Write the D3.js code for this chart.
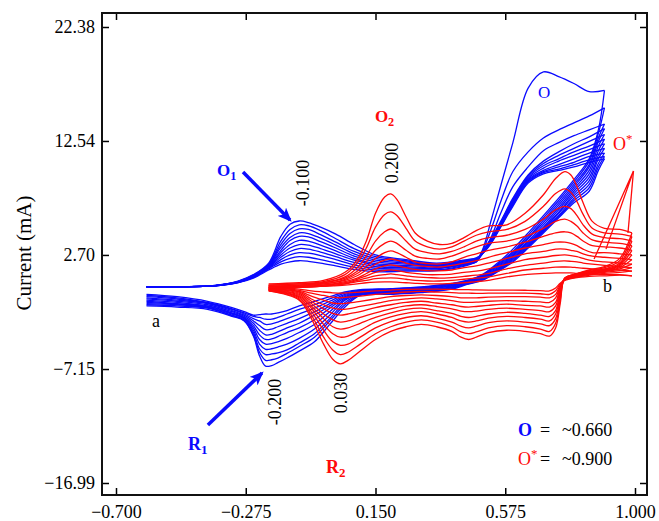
<!DOCTYPE html>
<html><head><meta charset="utf-8">
<script src="https://cdn.jsdelivr.net/npm/d3@7"></script>
<style>
html,body{margin:0;padding:0;background:#fff;}
svg{display:block;font-family:"Liberation Serif","Times New Roman",serif;}
</style></head><body>
<svg id="chart" width="659" height="521"></svg>
<script>
// ---------- DATA ----------
const xTicks = [-0.700, -0.275, 0.150, 0.575, 1.000];
const yTicks = [-16.99, -7.15, 2.70, 12.54, 22.38];

// Blue cycles (potential window -0.60 .. 0.90 V)
const blueForwardX = [-0.60,-0.50,-0.40,-0.35,-0.30,-0.25,-0.20,-0.16,-0.13,-0.10,-0.07,-0.03,0.02,0.08,0.15,0.25,0.35,0.45,0.48,0.50,0.53,0.56,0.60,0.65,0.70,0.75,0.80,0.85,0.90];
const blueForwardY = [
 [-0.05,-0.05,0.0,0.10,0.30,0.70,1.40,1.90,2.10,2.20,2.15,2.00,1.75,1.45,1.25,1.30,1.35,1.80,2.20,3.10,5.80,8.65,12.4,17.1,18.5,18.1,17.5,16.8,16.9],
 [-0.05,-0.05,0.0,0.10,0.32,0.75,1.50,2.10,2.40,2.55,2.50,2.30,2.00,1.65,1.40,1.40,1.40,1.85,2.10,3.00,5.00,7.30,9.90,11.6,12.8,13.5,14.1,14.7,15.4],
 [-0.05,-0.05,0.0,0.10,0.33,0.78,1.55,2.30,2.70,2.90,2.85,2.65,2.30,1.85,1.55,1.50,1.50,1.90,2.10,2.80,4.30,6.30,8.60,10.3,11.7,12.4,13.0,13.5,14.0],
 [-0.05,-0.05,0.0,0.12,0.35,0.80,1.60,2.50,3.00,3.25,3.20,2.95,2.55,2.05,1.70,1.60,1.55,1.95,2.20,3.00,4.20,5.60,7.60,9.60,10.8,11.6,12.3,12.9,13.6],
 [-0.05,-0.05,0.0,0.12,0.36,0.82,1.65,2.70,3.30,3.60,3.55,3.25,2.80,2.25,1.85,1.70,1.60,2.00,2.20,2.90,4.10,5.50,7.50,9.50,10.6,11.3,11.9,12.5,13.1],
 [-0.05,-0.05,0.0,0.13,0.37,0.85,1.70,2.90,3.60,3.95,3.90,3.55,3.05,2.40,1.95,1.80,1.70,2.05,2.25,2.85,4.00,5.40,7.40,9.40,10.4,11.0,11.6,12.1,12.7],
 [-0.05,-0.05,0.0,0.13,0.38,0.88,1.75,3.10,3.95,4.30,4.25,3.85,3.30,2.60,2.10,1.90,1.75,2.10,2.30,2.85,3.95,5.30,7.30,9.30,10.2,10.8,11.3,11.8,12.3],
 [-0.05,-0.05,0.0,0.14,0.39,0.90,1.80,3.35,4.20,4.60,4.55,4.15,3.55,2.80,2.25,2.00,1.80,2.15,2.30,2.80,3.90,5.25,7.20,9.20,10.0,10.5,11.0,11.5,11.9],
 [-0.05,-0.05,0.0,0.14,0.40,0.93,1.85,3.60,4.55,4.95,4.90,4.45,3.80,3.00,2.40,2.10,1.85,2.20,2.35,2.80,3.85,5.20,7.10,9.10,9.90,10.3,10.7,11.2,11.5],
 [-0.05,-0.05,0.0,0.15,0.42,0.96,1.90,3.90,4.90,5.30,5.22,4.80,4.10,3.25,2.55,2.20,1.90,2.25,2.40,2.80,3.80,5.15,7.00,9.00,9.80,10.1,10.5,10.9,11.2],
 [-0.05,-0.05,0.0,0.15,0.44,1.00,2.00,4.30,5.35,5.63,5.50,5.10,4.50,3.60,2.70,2.30,2.00,2.30,2.45,2.80,3.75,5.10,6.90,8.90,9.70,10.0,10.3,10.7,11.0]
];
const blueReverseX = [0.90,0.88,0.85,0.80,0.75,0.70,0.65,0.60,0.55,0.50,0.45,0.40,0.30,0.20,0.10,0.05,0.00,-0.05,-0.10,-0.14,-0.17,-0.19,-0.21,-0.23,-0.25,-0.28,-0.32,-0.40,-0.50,-0.60];
const blueReverseY = [
 [16.9,13.5,11.0,9.2,7.6,6.1,4.6,3.2,2.0,1.00,0.50,0.25,-0.05,-0.20,-0.30,-0.5,-0.9,-1.3,-1.7,-2.1,-2.3,-2.4,-2.4,-2.45,-2.5,-2.2,-1.85,-1.3,-0.9,-0.7],
 [15.4,13.2,10.8,9.0,7.4,5.9,4.4,3.0,1.9,0.95,0.50,0.20,-0.10,-0.25,-0.35,-0.6,-1.1,-1.6,-2.0,-2.4,-2.7,-2.85,-2.85,-2.7,-2.6,-2.3,-1.95,-1.4,-1.0,-0.8],
 [14.0,12.8,10.5,8.8,7.2,5.7,4.2,2.9,1.8,0.90,0.45,0.15,-0.15,-0.30,-0.40,-0.7,-1.3,-1.9,-2.4,-2.8,-3.1,-3.25,-3.3,-3.0,-2.8,-2.4,-2.0,-1.45,-1.1,-0.9],
 [13.6,12.5,10.3,8.6,7.0,5.5,4.1,2.8,1.7,0.85,0.40,0.10,-0.20,-0.35,-0.45,-0.8,-1.5,-2.2,-2.8,-3.2,-3.5,-3.7,-3.75,-3.4,-3.0,-2.5,-2.1,-1.5,-1.2,-1.0],
 [13.1,12.1,10.0,8.4,6.8,5.3,3.9,2.7,1.6,0.80,0.35,0.05,-0.25,-0.40,-0.50,-0.9,-1.7,-2.5,-3.2,-3.6,-3.95,-4.15,-4.2,-3.8,-3.2,-2.6,-2.2,-1.6,-1.3,-1.1],
 [12.7,11.7,9.7,8.2,6.6,5.1,3.8,2.6,1.5,0.75,0.30,0.00,-0.30,-0.45,-0.55,-1.0,-1.9,-2.9,-3.6,-4.0,-4.35,-4.55,-4.6,-4.2,-3.4,-2.7,-2.3,-1.7,-1.4,-1.2],
 [12.3,11.3,9.4,8.0,6.4,5.0,3.7,2.5,1.45,0.70,0.30,-0.05,-0.35,-0.50,-0.60,-1.1,-2.2,-3.3,-4.0,-4.5,-4.8,-4.95,-5.0,-4.6,-3.6,-2.75,-2.35,-1.75,-1.5,-1.3],
 [11.9,11.0,9.1,7.8,6.3,4.9,3.6,2.4,1.4,0.65,0.25,-0.10,-0.40,-0.55,-0.65,-1.2,-2.5,-3.7,-4.5,-5.0,-5.25,-5.4,-5.45,-5.0,-3.8,-2.8,-2.4,-1.8,-1.55,-1.4],
 [11.5,10.6,8.8,7.6,6.1,4.8,3.5,2.3,1.35,0.60,0.20,-0.15,-0.45,-0.60,-0.70,-1.4,-2.8,-4.1,-4.9,-5.5,-5.75,-5.85,-5.9,-5.4,-4.0,-2.9,-2.5,-1.85,-1.6,-1.5],
 [11.2,10.3,8.5,7.4,6.0,4.7,3.4,2.2,1.3,0.55,0.20,-0.20,-0.50,-0.65,-0.75,-1.6,-3.0,-4.4,-5.2,-5.8,-6.2,-6.35,-6.4,-5.7,-4.2,-2.95,-2.55,-1.9,-1.7,-1.6],
 [11.0,10.0,8.2,7.2,5.9,4.6,3.3,2.1,1.25,0.50,0.15,-0.25,-0.55,-0.70,-0.80,-1.8,-3.3,-4.8,-5.6,-6.2,-6.6,-6.85,-6.9,-6.0,-4.3,-3.0,-2.6,-2.0,-1.8,-1.7]
];

// Red cycles (potential window -0.20 .. 0.99 V)
const redForwardX = [-0.20,-0.10,-0.02,0.05,0.09,0.12,0.15,0.18,0.20,0.22,0.25,0.28,0.32,0.36,0.40,0.44,0.48,0.52,0.58,0.64,0.70,0.74,0.77,0.79,0.81,0.83,0.86,0.90,0.95,0.99];
const redForwardY = [
 [0.2,0.3,0.5,1.2,2.3,3.9,6.3,7.7,7.97,7.5,6.0,4.6,3.9,3.6,3.7,4.2,4.8,5.2,5.3,6.3,7.9,9.3,9.9,9.6,8.6,7.2,5.6,5.0,4.9,4.6],
 [0.1,0.2,0.4,1.0,2.0,3.3,5.1,6.2,6.41,6.1,5.0,3.9,3.4,3.2,3.4,3.9,4.4,4.7,4.9,5.6,6.9,8.0,8.4,8.1,7.3,6.2,5.0,4.6,4.5,4.3],
 [0.1,0.2,0.3,0.8,1.6,2.6,3.9,4.7,4.94,4.7,3.9,3.2,2.9,2.8,3.0,3.4,3.9,4.2,4.4,4.9,5.8,6.6,6.9,6.7,6.1,5.3,4.5,4.2,4.1,3.9],
 [0.0,0.1,0.3,0.7,1.3,2.1,3.1,3.7,3.9,3.7,3.1,2.6,2.4,2.35,2.6,3.0,3.4,3.7,3.9,4.3,5.0,5.6,5.8,5.6,5.2,4.6,4.0,3.8,3.7,3.5],
 [0.0,0.1,0.2,0.6,1.1,1.7,2.4,2.9,3.05,2.9,2.5,2.1,1.95,1.92,2.1,2.5,2.8,3.1,3.4,3.8,4.3,4.6,4.7,4.6,4.3,3.9,3.5,3.4,3.3,3.1],
 [0.0,0.0,0.2,0.5,0.9,1.4,1.9,2.25,2.35,2.25,2.0,1.8,1.7,1.66,1.8,2.0,2.2,2.5,2.9,3.3,3.6,3.8,3.8,3.7,3.5,3.2,2.9,2.9,2.8,2.7],
 [-0.1,0.0,0.1,0.4,0.7,1.1,1.5,1.75,1.84,1.75,1.6,1.45,1.35,1.32,1.4,1.6,1.75,2.0,2.4,2.8,3.0,3.2,3.2,3.1,3.0,2.8,2.6,2.5,2.4,2.3],
 [-0.1,0.0,0.1,0.3,0.6,0.9,1.2,1.35,1.41,1.35,1.2,1.1,1.0,1.0,1.05,1.2,1.3,1.5,1.9,2.3,2.5,2.65,2.7,2.65,2.55,2.4,2.2,2.1,2.0,1.9],
 [-0.1,-0.1,0.0,0.2,0.5,0.7,0.9,1.0,1.06,1.0,0.9,0.8,0.75,0.7,0.75,0.85,0.95,1.1,1.5,1.8,2.0,2.15,2.18,2.15,2.1,2.0,1.9,1.8,1.7,1.6],
 [-0.2,-0.1,0.0,0.2,0.4,0.5,0.65,0.7,0.72,0.7,0.6,0.5,0.45,0.45,0.5,0.6,0.7,0.8,1.1,1.4,1.55,1.65,1.66,1.65,1.6,1.55,1.5,1.45,1.4,1.3],
 [-0.2,-0.1,0.0,0.1,0.2,0.3,0.35,0.37,0.37,0.35,0.3,0.25,0.2,0.2,0.25,0.3,0.4,0.5,0.8,1.0,1.1,1.15,1.15,1.15,1.1,1.1,1.05,1.0,1.0,0.9]
];
const redReverseX = [0.99,0.95,0.90,0.85,0.80,0.77,0.755,0.74,0.72,0.69,0.64,0.58,0.52,0.48,0.455,0.43,0.40,0.35,0.30,0.25,0.20,0.15,0.10,0.06,0.035,0.01,-0.02,-0.06,-0.10,-0.20];
const redReverseY = [
 [4.6,2.4,1.7,1.4,1.0,0.7,-1.5,-3.6,-4.3,-4.1,-3.9,-3.8,-4.0,-4.4,-4.6,-4.4,-3.9,-3.5,-3.3,-3.5,-3.9,-4.6,-5.6,-6.4,-6.7,-6.3,-5.0,-2.8,-1.2,-0.4],
 [4.3,2.2,1.6,1.35,1.0,0.7,-1.2,-3.2,-3.9,-3.7,-3.5,-3.4,-3.6,-3.95,-4.1,-3.95,-3.5,-3.1,-2.9,-3.1,-3.5,-4.1,-5.0,-5.7,-5.9,-5.5,-4.4,-2.5,-1.1,-0.4],
 [3.9,2.0,1.5,1.3,1.0,0.7,-0.9,-2.8,-3.4,-3.25,-3.1,-3.0,-3.15,-3.45,-3.6,-3.45,-3.1,-2.75,-2.55,-2.7,-3.05,-3.6,-4.4,-5.0,-5.1,-4.8,-3.8,-2.2,-1.0,-0.35],
 [3.5,1.9,1.45,1.25,0.95,0.7,-0.7,-2.4,-3.0,-2.85,-2.7,-2.6,-2.75,-3.0,-3.1,-3.0,-2.7,-2.4,-2.2,-2.35,-2.65,-3.1,-3.8,-4.3,-4.4,-4.1,-3.3,-1.9,-0.9,-0.35],
 [3.1,1.8,1.4,1.2,0.9,0.65,-0.5,-2.1,-2.6,-2.5,-2.35,-2.25,-2.4,-2.6,-2.7,-2.6,-2.35,-2.1,-1.9,-2.0,-2.3,-2.7,-3.2,-3.6,-3.7,-3.5,-2.8,-1.7,-0.8,-0.3],
 [2.7,1.7,1.35,1.15,0.9,0.65,-0.3,-1.7,-2.2,-2.1,-2.0,-1.9,-2.0,-2.15,-2.2,-2.15,-1.95,-1.75,-1.6,-1.7,-1.95,-2.3,-2.7,-3.0,-3.1,-2.9,-2.4,-1.5,-0.7,-0.3],
 [2.3,1.6,1.3,1.1,0.85,0.6,-0.1,-1.4,-1.8,-1.7,-1.65,-1.55,-1.65,-1.75,-1.8,-1.75,-1.6,-1.45,-1.3,-1.4,-1.6,-1.85,-2.2,-2.4,-2.5,-2.35,-1.95,-1.3,-0.6,-0.25],
 [1.9,1.5,1.25,1.05,0.8,0.6,0.0,-1.0,-1.4,-1.35,-1.3,-1.25,-1.3,-1.38,-1.4,-1.38,-1.25,-1.1,-1.0,-1.1,-1.25,-1.5,-1.75,-1.95,-2.0,-1.9,-1.6,-1.1,-0.5,-0.25],
 [1.6,1.35,1.2,1.0,0.8,0.55,0.1,-0.7,-1.0,-0.95,-0.9,-0.9,-0.95,-1.0,-1.0,-1.0,-0.9,-0.8,-0.75,-0.8,-0.9,-1.1,-1.3,-1.45,-1.5,-1.45,-1.2,-0.85,-0.45,-0.2],
 [1.3,1.2,1.1,0.95,0.75,0.55,0.2,-0.4,-0.7,-0.65,-0.6,-0.6,-0.6,-0.62,-0.6,-0.6,-0.55,-0.5,-0.45,-0.5,-0.6,-0.7,-0.85,-0.95,-1.0,-0.95,-0.8,-0.6,-0.35,-0.15],
 [0.9,0.95,0.9,0.85,0.7,0.5,0.25,-0.15,-0.4,-0.38,-0.35,-0.33,-0.33,-0.32,-0.3,-0.3,-0.28,-0.25,-0.25,-0.28,-0.33,-0.4,-0.5,-0.57,-0.6,-0.57,-0.5,-0.4,-0.25,-0.1]
];
// O* oxidation spike near 1.0 V
const oStarX = [0.866, 0.995, 0.905];
const oStarY = [2.35, 9.95, 3.2];
const oStarBackX = [0.995, 0.977];
const oStarBackY = [9.95, 4.6];

// ---------- DRAW ----------
const svg = d3.select("#chart");
const frame = {left:102, right:647, top:13, bottom:495};
const x = d3.scaleLinear().domain([-0.7, 1.0]).range([116, 635]);
const y = d3.scaleLinear().domain([-16.99, 22.38]).range([483, 27]);
const BLUE = "#0a0aff", RED = "#ff0a0a";

const smooth = d3.line().x(d => x(d[0])).y(d => y(d[1])).curve(d3.curveCatmullRom.alpha(0.5));
const straight = d3.line().x(d => x(d[0])).y(d => y(d[1]));
const zip = (xs, ys) => xs.map((v,i) => [v, ys[i]]);

const plot = svg.append("g");
function drawSet(xs, sets, color){
  sets.forEach(ys => {
    plot.append("path").attr("d", smooth(zip(xs, ys)))
      .attr("fill","none").attr("stroke",color).attr("stroke-width",1.3);
  });
}
drawSet(blueForwardX, blueForwardY, BLUE);
drawSet(blueReverseX, blueReverseY, BLUE);
drawSet(redForwardX, redForwardY, RED);
drawSet(redReverseX, redReverseY, RED);
plot.append("path").attr("d", straight(zip(oStarX,oStarY))).attr("fill","none").attr("stroke",RED).attr("stroke-width",1.3);
plot.append("path").attr("d", straight(zip(oStarBackX,oStarBackY))).attr("fill","none").attr("stroke",RED).attr("stroke-width",1.3);

// ---------- AXES / FRAME ----------
const axB = svg.append("g").attr("transform",`translate(0,${frame.bottom})`)
  .call(d3.axisBottom(x).tickValues(xTicks).tickSize(-7).tickPadding(10).tickFormat(d3.format(".3f")));
const axT = svg.append("g").attr("transform",`translate(0,${frame.top})`)
  .call(d3.axisTop(x).tickValues(xTicks).tickSize(-7).tickFormat(""));
const axL = svg.append("g").attr("transform",`translate(${frame.left},0)`)
  .call(d3.axisLeft(y).tickValues(yTicks).tickSize(-7).tickPadding(7).tickFormat(d3.format(".2f")));
const axR = svg.append("g").attr("transform",`translate(${frame.right},0)`)
  .call(d3.axisRight(y).tickValues(yTicks).tickSize(-7).tickFormat(""));
[axB,axT,axL,axR].forEach(a => {
  a.select(".domain").remove();
  a.selectAll(".tick line").attr("stroke","#000").attr("stroke-width",1.5);
  a.selectAll("text").attr("font-family","Liberation Serif, serif").attr("font-size",18).attr("fill","#000");
});
svg.append("rect").attr("x",frame.left).attr("y",frame.top)
  .attr("width",frame.right-frame.left).attr("height",frame.bottom-frame.top)
  .attr("fill","none").attr("stroke","#111").attr("stroke-width",2);

svg.append("text").attr("transform","translate(31,253) rotate(-90)")
  .attr("text-anchor","middle").attr("font-size",21).attr("fill","#000").text("Current (mA)");

// ---------- ANNOTATIONS ----------
const defs = svg.append("defs");
defs.append("marker").attr("id","ah").attr("viewBox","0 0 12 10").attr("refX",10).attr("refY",5)
  .attr("markerWidth",14).attr("markerHeight",12).attr("markerUnits","userSpaceOnUse").attr("orient","auto")
  .append("path").attr("d","M0,0 L12,5 L0,10 L3,5 Z").attr("fill",BLUE);

function arrow(x1,y1,x2,y2){
  svg.append("line").attr("x1",x(x1)).attr("y1",y(y1)).attr("x2",x(x2)).attr("y2",y(y2))
    .attr("stroke",BLUE).attr("stroke-width",3.5).attr("marker-end","url(#ah)");
}
arrow(-0.284, 9.86, -0.130, 5.71);
arrow(-0.399, -11.99, -0.222, -7.50);

function label(px, py, parts, opts={}){
  const t = svg.append("text").attr("x",x(px)).attr("y",y(py))
    .attr("font-size",opts.size||18).attr("fill",opts.color||"#000")
    .attr("font-weight",opts.bold?"bold":"normal");
  parts.forEach(p => {
    const ts = t.append("tspan").text(p.t);
    if(p.sub){ ts.attr("font-size",(opts.size||18)*0.72).attr("dy",4); }
    if(p.sup){ ts.attr("font-size",(opts.size||18)*0.72).attr("dy",-7); }
  });
  return t;
}
function vlabel(px, py, txt){
  svg.append("text").attr("transform",`translate(${x(px)},${y(py)}) rotate(-90)`)
    .attr("text-anchor","middle").attr("dominant-baseline","central")
    .attr("font-size",18).attr("fill","#000").text(txt);
}
label(-0.369, 9.51, [{t:"O"},{t:"1",sub:true}], {color:BLUE,bold:true,size:17});
label(0.148, 14.18, [{t:"O"},{t:"2",sub:true}], {color:RED,bold:true,size:17});
label(0.682, 16.25, [{t:"O"}], {color:BLUE,size:17});
label(0.928, 11.76, [{t:"O"},{t:"*",sup:true}], {color:RED,size:18});
label(-0.464, -14.15, [{t:"R"},{t:"1",sub:true}], {color:BLUE,bold:true,size:18});
label(-0.012, -16.13, [{t:"R"},{t:"2",sub:true}], {color:RED,bold:true,size:18});
label(-0.582, -3.53, [{t:"a"}]);
label(0.895, -0.50, [{t:"b"}]);
vlabel(-0.0875, 8.91, "-0.100");
vlabel(0.204, 10.63, "0.200");
vlabel(-0.179, -10.0, "-0.200");
vlabel(0.037, -9.23, "0.030");

label(0.617, -12.94, [{t:"O"}], {color:BLUE,bold:true});
label(0.689, -12.94, [{t:"="}]);
label(0.761, -12.94, [{t:"~0.660"}]);
label(0.617, -15.44, [{t:"O"},{t:"*",sup:true}], {color:RED});
label(0.689, -15.44, [{t:"="}]);
label(0.761, -15.44, [{t:"~0.900"}]);
</script>
</body></html>
